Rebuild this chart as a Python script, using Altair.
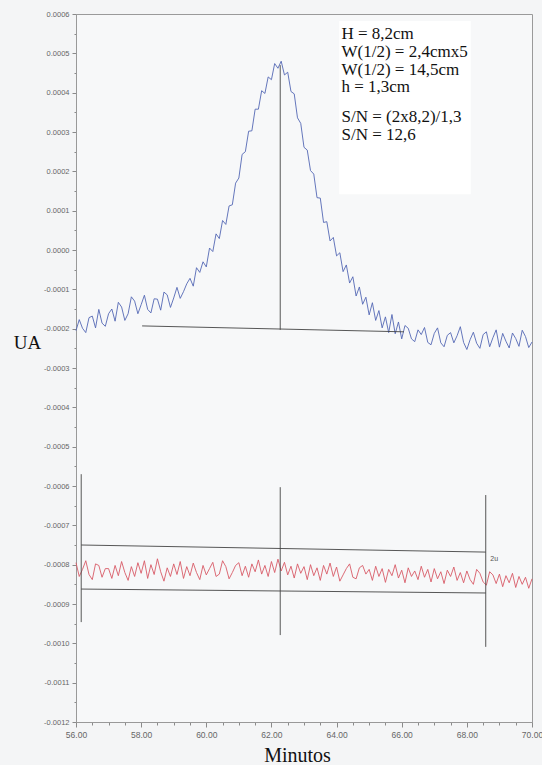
import altair as alt
import pandas as pd

# time axis (minutes), 0.1 min sampling
TIMES = [round(56 + 0.1 * i, 1) for i in range(141)]

# blue trace (UA x 1e-4)
BLUE = [
    -2.05, -1.77, -1.99, -2.10, -1.72, -1.68, -1.98, -1.51, -1.86, -1.94,
    -1.62, -1.50, -1.81, -1.33, -1.45, -1.79, -1.62, -1.19, -1.30, -1.62,
    -1.39, -1.15, -1.51, -1.60, -1.24, -1.25, -1.53, -1.07, -1.14, -1.46,
    -1.22, -0.95, -1.23, -1.06, -0.86, -0.72, -0.92, -0.45, -0.57, -0.30,
    -0.43, 0.05, -0.04, 0.41, 0.29, 0.75, 0.65, 1.12, 1.15, 1.70,
    1.83, 2.43, 2.50, 3.02, 3.03, 3.58, 3.58, 4.05, 3.98, 4.40,
    4.33, 4.74, 4.62, 4.80, 4.45, 4.52, 4.03, 3.97, 3.36, 3.22,
    2.61, 2.54, 2.02, 1.93, 1.33, 1.32, 0.70, 0.72, 0.23, 0.32,
    -0.15, -0.07, -0.55, -0.38, -0.84, -0.68, -1.17, -0.94, -1.38, -1.20,
    -1.65, -1.34, -1.79, -1.54, -1.98, -1.70, -2.10, -1.64, -2.13, -1.83,
    -2.26, -1.92, -1.99, -2.26, -2.33, -2.03, -2.15, -1.97, -2.35, -2.41,
    -2.12, -1.98, -2.36, -2.46, -2.17, -2.10, -2.36, -2.18, -1.95, -2.35,
    -2.53, -2.28, -2.09, -2.37, -2.50, -2.15, -2.08, -2.46, -2.23, -2.03,
    -2.47, -2.12, -2.32, -2.49, -2.11, -2.25, -2.45, -2.04, -2.20, -2.48,
    -2.34,
]

# red trace (UA x 1e-4)
RED = [
    -7.95, -8.30, -8.12, -7.90, -8.25, -8.38, -7.98, -8.02, -8.32, -8.10,
    -8.10, -8.35, -8.02, -8.28, -7.92, -8.20, -8.40, -8.05, -8.30, -7.95,
    -8.22, -7.90, -8.35, -8.00, -8.25, -7.85, -8.18, -8.42, -8.08, -8.30,
    -7.98, -8.25, -7.92, -8.35, -8.05, -8.28, -7.96, -8.20, -8.38, -8.02,
    -8.26, -8.10, -7.94, -8.30, -8.24, -7.90, -8.05, -8.36, -8.20, -8.02,
    -7.95, -8.28, -8.04, -8.32, -7.98, -8.18, -7.88, -8.24, -8.02, -8.30,
    -7.92, -8.20, -7.86, -8.16, -7.94, -8.26, -8.04, -8.34, -7.98, -8.22,
    -8.05, -8.38, -8.00, -8.28, -8.08, -8.40, -8.02, -8.24, -7.96, -8.30,
    -8.06, -8.42, -8.26, -8.10, -7.98, -8.32, -8.36, -8.08, -8.02, -8.24,
    -8.12, -8.40, -8.04, -8.30, -8.10, -8.45, -8.12, -8.28, -8.00, -8.34,
    -8.14, -8.46, -8.08, -8.30, -8.16, -8.38, -8.04, -8.32, -8.12, -8.44,
    -8.10, -8.36, -8.18, -8.48, -8.14, -8.30, -8.06, -8.40, -8.20, -8.46,
    -8.16, -8.38, -8.50, -8.12, -8.22, -8.44, -8.52, -8.18, -8.26, -8.48,
    -8.24, -8.56, -8.28, -8.46, -8.22, -8.58, -8.30, -8.50, -8.32, -8.60,
    -8.36,
]

# drawn measurement lines (baseline, peak height, noise band, markers)
SEG_X1 = [58.03, 62.27, 56.16, 56.16, 56.16, 62.27, 68.58]
SEG_Y1 = [-1.93, 4.70, -7.50, -8.62, -5.70, -6.03, -6.23]
SEG_X2 = [66.07, 62.27, 68.58, 68.58, 56.16, 62.27, 68.58]
SEG_Y2 = [-2.08, -2.03, -7.68, -8.72, -9.46, -9.79, -10.09]

# annotation text
NOTE_LINES = ["H = 8,2cm", "W(1/2) = 2,4cmx5", "W(1/2) = 14,5cm", "h = 1,3cm",
              "S/N = (2x8,2)/1,3", "S/N = 12,6"]
NOTE_Y = [5.49, 5.03, 4.58, 4.14, 3.38, 2.92]
NOTE_X = 64.15
BOX_X = [64.08, 68.12]
BOX_Y = [1.42, 5.82]
SMALL_LABEL = "2u"
SMALL_XY = [68.72, -7.86]

X_TICKS = [56 + 0.5 * i for i in range(29)]
Y_TICKS = [-12 + 0.5 * i for i in range(37)]

blue = pd.DataFrame({"t": TIMES, "v": BLUE})
red = pd.DataFrame({"t": TIMES, "v": RED})
segs = pd.DataFrame({"x1": SEG_X1, "y1": SEG_Y1, "x2": SEG_X2, "y2": SEG_Y2})
notes = pd.DataFrame({"x": [NOTE_X] * len(NOTE_LINES), "y": NOTE_Y, "txt": NOTE_LINES})
box = pd.DataFrame({"x1": [BOX_X[0]], "x2": [BOX_X[1]], "y1": [BOX_Y[0]], "y2": [BOX_Y[1]]})
small = pd.DataFrame({"x": [SMALL_XY[0]], "y": [SMALL_XY[1]], "txt": [SMALL_LABEL]})

xs = alt.Scale(domain=[56, 70], nice=False, zero=False)
ys = alt.Scale(domain=[-12, 6], nice=False, zero=False)

x_axis = alt.Axis(
    values=X_TICKS,
    labelExpr="datum.value % 2 == 0 ? format(datum.value, '.2f') : ''",
    tickSize={"condition": {"test": "datum.value % 2 == 0", "value": 5}, "value": 3},
    grid=False, labelFont="Liberation Sans", labelFontSize=8.5, labelColor="#666666",
    labelPadding=3, tickColor="#8a8a8a", domainColor="#999999",
    titleFont="Liberation Serif", titleFontSize=20, titleFontWeight="normal",
    titleColor="#111111", titleX=221, titleY=33, titleAlign="center",
    titleBaseline="middle", labelFlush=False,
)
y_axis = alt.Axis(
    values=Y_TICKS,
    labelExpr="datum.value % 1 == 0 ? replace(format(datum.value / 10000, '.4f'), '\u2212', '-') : ''",
    tickSize={"condition": {"test": "datum.value % 1 == 0", "value": 4}, "value": 2},
    grid=False, labelFont="Liberation Sans", labelFontSize=7.5, labelColor="#666666",
    labelPadding=3, tickColor="#8a8a8a", domainColor="#999999",
    titleFont="Liberation Serif", titleFontSize=19, titleFontWeight="normal",
    titleColor="#111111", titleAngle=0, titleX=-49, titleY=328,
    titleAlign="center", titleBaseline="middle",
)


def xq(field, **kw):
    return alt.X(field, scale=xs, axis=x_axis, title="Minutos", **kw)


def yq(field, **kw):
    return alt.Y(field, scale=ys, axis=y_axis, title="UA", **kw)


blue_line = alt.Chart(blue).mark_line(color="#5468b4", strokeWidth=0.9).encode(
    x=xq("t:Q"), y=yq("v:Q"),
)

rect = alt.Chart(box).mark_rect(color="white").encode(
    x=xq("x1:Q"), x2="x2:Q", y=yq("y1:Q"), y2="y2:Q",
)

red_line = alt.Chart(red).mark_line(color="#d85a66", strokeWidth=0.9).encode(
    x=xq("t:Q"), y=yq("v:Q"),
)

rules = alt.Chart(segs).mark_rule(color="#444444", strokeWidth=0.9).encode(
    x=xq("x1:Q"), x2="x2:Q", y=yq("y1:Q"), y2="y2:Q",
)

text = alt.Chart(notes).mark_text(
    align="left", baseline="middle", font="Liberation Serif", fontSize=17, color="#111111"
).encode(
    x=xq("x:Q"), y=yq("y:Q"), text="txt:N",
)

small_text = alt.Chart(small).mark_text(
    align="left", baseline="middle", font="Liberation Sans", fontSize=7, color="#555555"
).encode(
    x=xq("x:Q"), y=yq("y:Q"), text="txt:N",
)

chart = alt.layer(blue_line, rect, red_line, rules, text, small_text).properties(
    width=456, height=708,
    padding={"left": 76, "top": 14, "right": 10, "bottom": 43},
    autosize=alt.AutoSizeParams(type="none"),
    background="#f4f5f6",
).configure_view(stroke="#9a9a9a", strokeWidth=1, fill="#f7f8f9")

chart.save("out.html", embed_options={"renderer": "svg", "actions": False})
